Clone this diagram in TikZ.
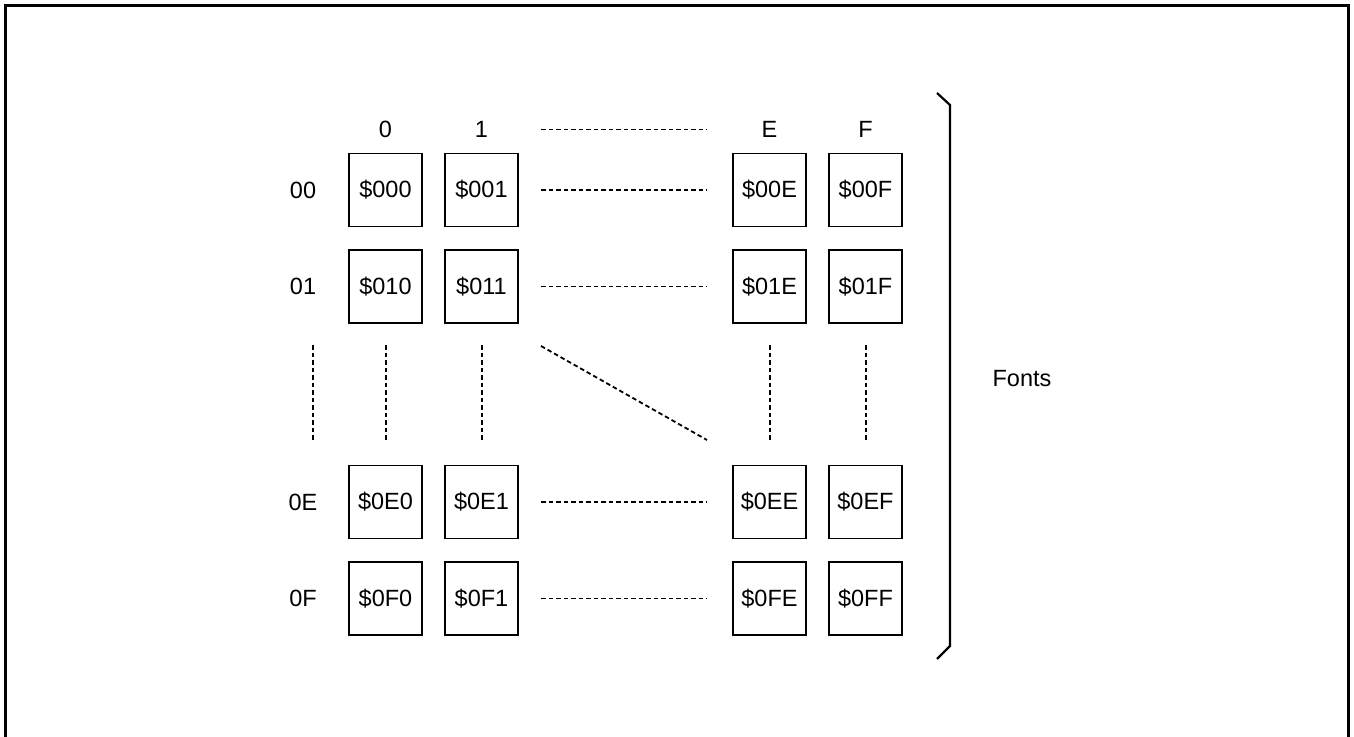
\documentclass[tikz,border=0pt]{standalone}
\usepackage{fontspec}
\setmainfont{Liberation Sans}
\begin{document}
\begin{tikzpicture}[x=1pt,y=-1pt,
  cell/.style={draw,line width=1.8pt,minimum width=73pt,minimum height=73pt,inner sep=0pt,font=\fontsize{23.5}{27}\selectfont},
  lab/.style={inner sep=0pt,font=\fontsize{23.5}{27}\selectfont},
  dots/.style={line width=1.8pt,dash pattern=on 4.5pt off 3pt}]
\useasboundingbox (0,0) rectangle (1354,736);
% frame (open at bottom)
\draw[line width=3pt] (5.5,740) -- (5.5,5.5) -- (1348.5,5.5) -- (1348.5,740);
% column headers
\node[lab] (h0) at (385.5,129.5) {0};
\node[lab] (h1) at (481.5,129.5) {1};
\node[lab] (hE) at (769.5,129.5) {E};
\node[lab] (hF) at (865.5,129.5) {F};
% row labels
\node[lab] (r00) at (303,190) {00};
\node[lab] (r01) at (303,286.5) {01};
\node[lab] (r0E) at (303,502) {0E};
\node[lab,anchor=base] (r0F) at (303,606.5) {0F};
% cells
\node[cell] (c000) at (385.5,190) {\$000};
\node[cell] (c001) at (481.5,190) {\$001};
\node[cell] (c00E) at (769.5,190) {\$00E};
\node[cell] (c00F) at (865.5,190) {\$00F};
\node[cell] (c010) at (385.5,286.5) {\$010};
\node[cell] (c011) at (481.5,286.5) {\$011};
\node[cell] (c01E) at (769.5,286.5) {\$01E};
\node[cell] (c01F) at (865.5,286.5) {\$01F};
\node[cell] (c0E0) at (385.5,502) {\$0E0};
\node[cell] (c0E1) at (481.5,502) {\$0E1};
\node[cell] (c0EE) at (769.5,502) {\$0EE};
\node[cell] (c0EF) at (865.5,502) {\$0EF};
\node[cell] (c0F0) at (385.5,598.5) {\$0F0};
\node[cell] (c0F1) at (481.5,598.5) {\$0F1};
\node[cell] (c0FE) at (769.5,598.5) {\$0FE};
\node[cell] (c0FF) at (865.5,598.5) {\$0FF};
% horizontal dotted runs
\foreach \n/\y in {h/129.5,a/190,b/286.5,c/502,d/598.5}{
  \coordinate (L\n) at (541,\y);
  \coordinate (R\n) at (707,\y);
  \draw[dots] (L\n) -- (R\n);
}
% vertical dotted runs
\foreach \n/\x in {v0/313,v1/386,v2/482,v3/770,v4/866}{
  \coordinate (T\n) at (\x,345);
  \coordinate (B\n) at (\x,442);
  \draw[dots] (T\n) -- (B\n);
}
% diagonal
\coordinate (dg1) at (541,346);
\coordinate (dg2) at (707,440);
\draw[dots] (dg1) -- (dg2);
% brace
\coordinate (br1) at (937,93);
\coordinate (br2) at (950,105);
\coordinate (br3) at (950,646);
\coordinate (br4) at (937,659);
\draw[line width=2.2pt] (br1) -- (br2) -- (br3) -- (br4);
\node[lab] (fonts) at (1022,379) {Fonts};
\end{tikzpicture}
\end{document}
